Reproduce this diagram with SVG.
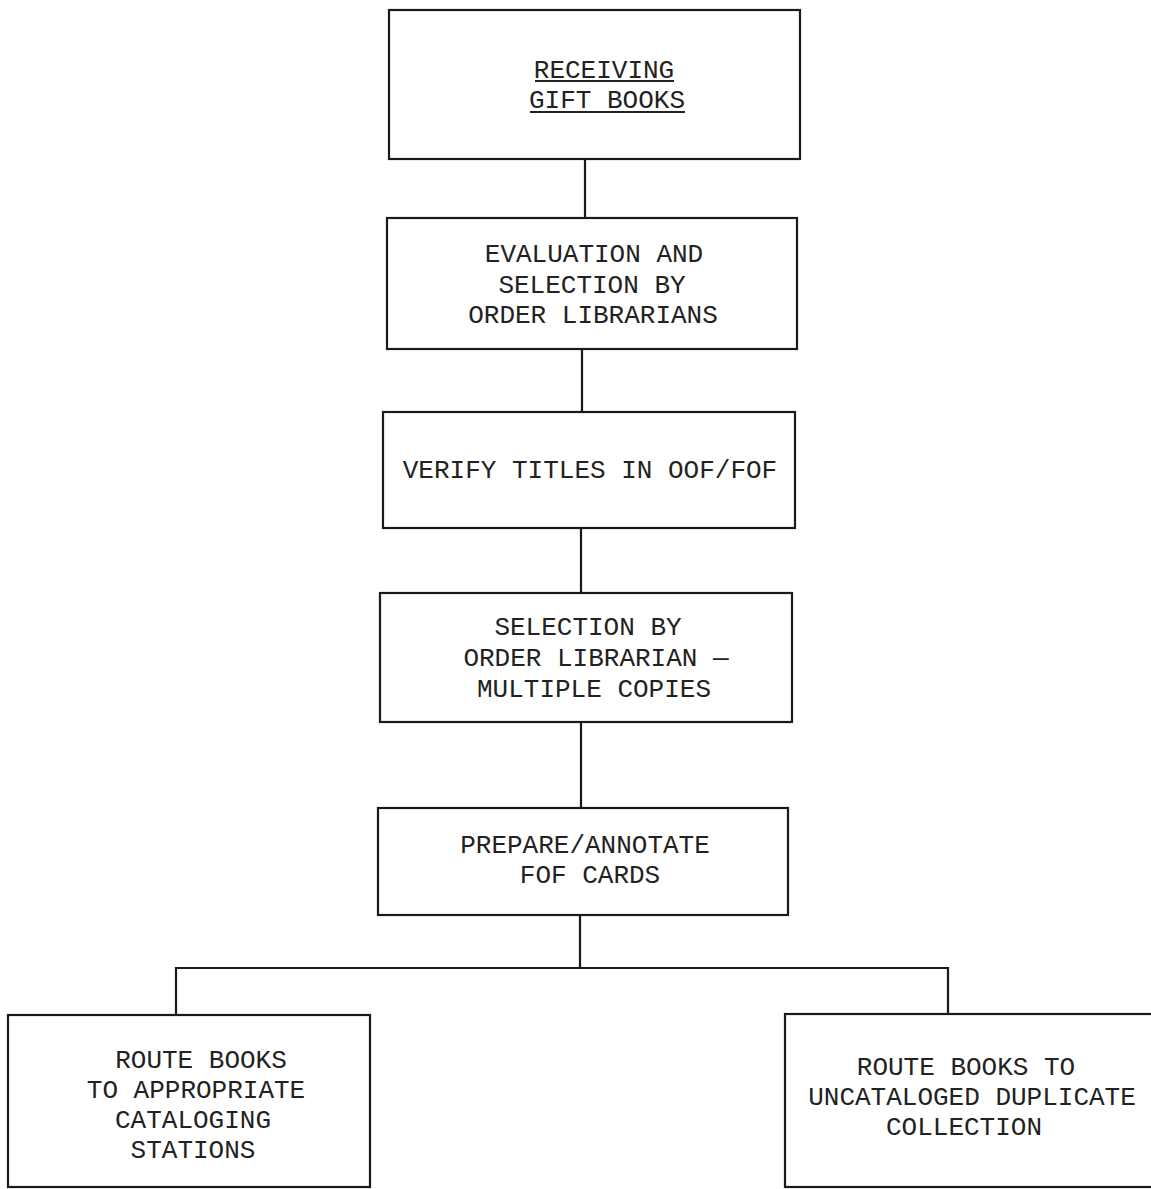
<svg xmlns="http://www.w3.org/2000/svg" width="1151" height="1189" viewBox="0 0 1151 1189">
<style>
.box{fill:#fff;stroke:#1a1a1a;stroke-width:2.2}
.conn{stroke:#1a1a1a;stroke-width:2.2;fill:none}
.t{font-family:"Liberation Mono","Courier New",monospace;font-size:26px;fill:#222;text-anchor:middle}
.ul{stroke:#222;stroke-width:1.8}
</style>
<rect width="1151" height="1189" fill="#fff"/>
<g id="connectors">
<line class="conn" x1="585" y1="159" x2="585" y2="218"/>
<line class="conn" x1="582" y1="349" x2="582" y2="412"/>
<line class="conn" x1="581" y1="528" x2="581" y2="593"/>
<line class="conn" x1="581" y1="722" x2="581" y2="808"/>
<line class="conn" x1="580" y1="915" x2="580" y2="968"/>
<line class="conn" x1="175" y1="968" x2="949" y2="968"/>
<line class="conn" x1="176" y1="967" x2="176" y2="1015"/>
<line class="conn" x1="948" y1="967" x2="948" y2="1014"/>
</g>
<g id="n1">
<rect class="box" x="389" y="10" width="411" height="149"/>
<text class="t" x="604" y="78">RECEIVING</text>
<text class="t" x="607" y="108">GIFT BOOKS</text>
<line class="ul" x1="535" y1="81" x2="674" y2="81"/>
<line class="ul" x1="530" y1="112" x2="685" y2="112"/>
</g>
<g id="n2">
<rect class="box" x="387" y="218" width="410" height="131"/>
<text class="t" x="594" y="262">EVALUATION AND</text>
<text class="t" x="592" y="293">SELECTION BY</text>
<text class="t" x="593" y="323">ORDER LIBRARIANS</text>
</g>
<g id="n3">
<rect class="box" x="383" y="412" width="412" height="116"/>
<text class="t" x="590" y="478">VERIFY TITLES IN OOF/FOF</text>
</g>
<g id="n4">
<rect class="box" x="380" y="593" width="412" height="129"/>
<text class="t" x="588" y="635">SELECTION BY</text>
<text class="t" x="596" y="666">ORDER LIBRARIAN —</text>
<text class="t" x="594" y="697">MULTIPLE COPIES</text>
</g>
<g id="n5">
<rect class="box" x="378" y="808" width="410" height="107"/>
<text class="t" x="585" y="853">PREPARE/ANNOTATE</text>
<text class="t" x="590" y="883">FOF CARDS</text>
</g>
<g id="n6">
<rect class="box" x="8" y="1015" width="362" height="172"/>
<text class="t" x="201" y="1068">ROUTE BOOKS</text>
<text class="t" x="196" y="1098">TO APPROPRIATE</text>
<text class="t" x="193" y="1128">CATALOGING</text>
<text class="t" x="193" y="1158">STATIONS</text>
</g>
<g id="n7">
<rect class="box" x="785" y="1014" width="380" height="173"/>
<text class="t" x="966" y="1075">ROUTE BOOKS TO</text>
<text class="t" x="972" y="1105">UNCATALOGED DUPLICATE</text>
<text class="t" x="964" y="1135">COLLECTION</text>
</g>
</svg>
